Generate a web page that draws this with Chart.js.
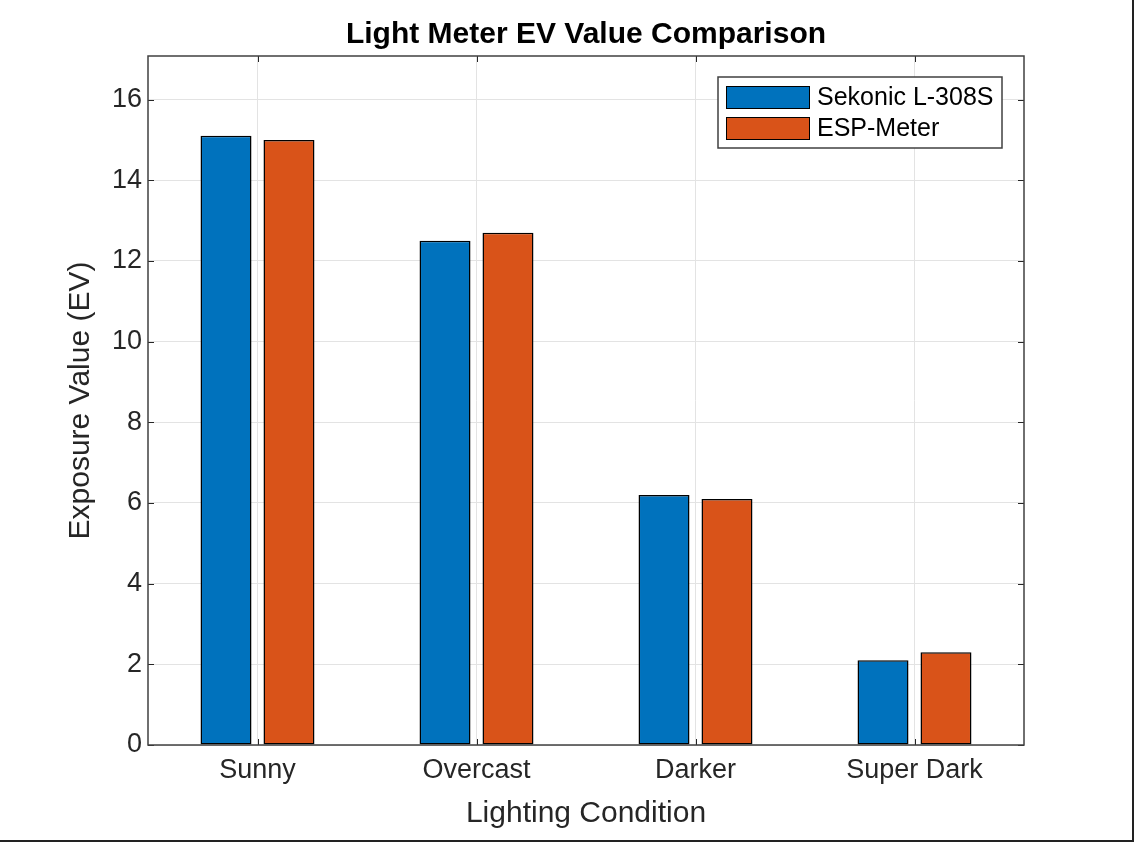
<!DOCTYPE html>
<html>
<head>
<meta charset="utf-8">
<script src="https://cdn.jsdelivr.net/npm/chart.js@4"></script>
<style>
  html, body { margin: 0; padding: 0; background: #fff; }
  #wrap { width: 1134px; height: 842px; position: relative; }
  canvas { display: block; }
</style>
</head>
<body>
<div id="wrap"><canvas id="c" width="1134" height="842"></canvas></div>
<script>
const categories = ['Sunny', 'Overcast', 'Darker', 'Super Dark'];
const sekonicValues = [15.1, 12.5, 6.2, 2.1];
const espValues = [15.0, 12.7, 6.1, 2.3];
const seriesNames = ['Sekonic L-308S', 'ESP-Meter'];
const yTickValues = [0, 2, 4, 6, 8, 10, 12, 14, 16];
const yMax = 17.08;

const FONT = '"Liberation Sans", Arial, Helvetica, sans-serif';
const AXIS_COLOR = '#404040';

const framePlugin = {
  id: 'frame',
  afterDraw(chart) {
    const ctx = chart.ctx;
    const a = chart.chartArea;
    const xs = chart.scales.x, ys = chart.scales.y;
    ctx.save();
    // inward tick marks
    ctx.strokeStyle = '#262626';
    ctx.lineWidth = 1;
    const tl = 6;
    ctx.beginPath();
    yTickValues.forEach(v => {
      const y = Math.round(ys.getPixelForValue(v)) + 0.5;
      ctx.moveTo(a.left, y); ctx.lineTo(a.left + tl, y);
      ctx.moveTo(a.right, y); ctx.lineTo(a.right - tl, y);
    });
    categories.forEach((c, i) => {
      const x = Math.round(xs.getPixelForValue(i)) + 0.5;
      ctx.moveTo(x, a.bottom); ctx.lineTo(x, a.bottom - tl);
      ctx.moveTo(x, a.top); ctx.lineTo(x, a.top + tl);
    });
    ctx.stroke();
    // frame
    ctx.strokeStyle = AXIS_COLOR;
    ctx.lineWidth = 1.5;
    ctx.strokeRect(a.left, a.top, a.right - a.left, a.bottom - a.top);

    // legend inside plot area (top-right)
    const lw = 284, lh = 71;
    const lx = a.right - 22 - lw, ly = a.top + 21;
    ctx.fillStyle = '#ffffff';
    ctx.fillRect(lx, ly, lw, lh);
    ctx.strokeStyle = AXIS_COLOR;
    ctx.lineWidth = 1.5;
    ctx.strokeRect(lx, ly, lw, lh);
    ctx.font = '25px ' + FONT;
    ctx.textBaseline = 'middle';
    ctx.textAlign = 'left';
    chart.data.datasets.forEach((ds, i) => {
      const sy = ly + 9 + i * 31;
      ctx.fillStyle = ds.backgroundColor;
      ctx.fillRect(lx + 8, sy, 84, 23);
      ctx.strokeStyle = '#000';
      ctx.lineWidth = 1;
      ctx.strokeRect(lx + 8.5, sy + 0.5, 83, 22);
      ctx.fillStyle = '#000';
      ctx.fillText(ds.label, lx + 99, sy + 12);
    });

    // screenshot border (right and bottom)
    ctx.fillStyle = '#222';
    ctx.fillRect(chart.width - 2, 0, 2, chart.height);
    ctx.fillRect(0, chart.height - 2, chart.width, 2);
    ctx.restore();
  }
};

new Chart(document.getElementById('c'), {
  type: 'bar',
  data: {
    labels: categories,
    datasets: [
      { label: seriesNames[0], data: sekonicValues, backgroundColor: '#0072BD', borderColor: '#000', borderWidth: 1.5, borderSkipped: false },
      { label: seriesNames[1], data: espValues, backgroundColor: '#D95319', borderColor: '#000', borderWidth: 1.5, borderSkipped: false }
    ]
  },
  options: {
    responsive: false,
    animation: false,
    devicePixelRatio: 1,
    categoryPercentage: 0.575,
    barPercentage: 0.81,
    layout: { padding: { left: 0, right: 110, top: 0, bottom: 0 } },
    plugins: {
      legend: { display: false },
      tooltip: { enabled: false },
      title: {
        display: true,
        text: 'Light Meter EV Value Comparison',
        color: '#000',
        fullSize: false,
        font: { family: FONT, size: 30, weight: 'bold', lineHeight: 1.2 },
        padding: { top: 17, bottom: 3 }
      }
    },
    scales: {
      x: {
        offset: true,
        grid: { display: true, offset: false, color: '#e3e3e3', lineWidth: 1, drawTicks: false },
        border: { display: false },
        ticks: { color: '#262626', font: { family: FONT, size: 27 }, padding: 9, maxRotation: 0 },
        title: {
          display: true, text: 'Lighting Condition', color: '#262626',
          font: { family: FONT, size: 30, lineHeight: 1.2 }, padding: { top: 0, bottom: 10 }
        },
        afterFit(s) { s.height = 97; }
      },
      y: {
        min: 0, max: yMax,
        grid: { color: '#e3e3e3', lineWidth: 1, drawTicks: false },
        border: { display: false },
        ticks: {
          stepSize: 2, includeBounds: false, color: '#262626',
          font: { family: FONT, size: 27 }, padding: 6
        },
        afterBuildTicks(s) { s.ticks = yTickValues.map(v => ({ value: v })); },
        title: {
          display: true, text: 'Exposure Value (EV)', color: '#262626',
          font: { family: FONT, size: 30, lineHeight: 1.2 }, padding: { top: 63, bottom: 0 }
        },
        afterFit(s) { s.width = 148; }
      }
    }
  },
  plugins: [framePlugin]
});
</script>
</body>
</html>
